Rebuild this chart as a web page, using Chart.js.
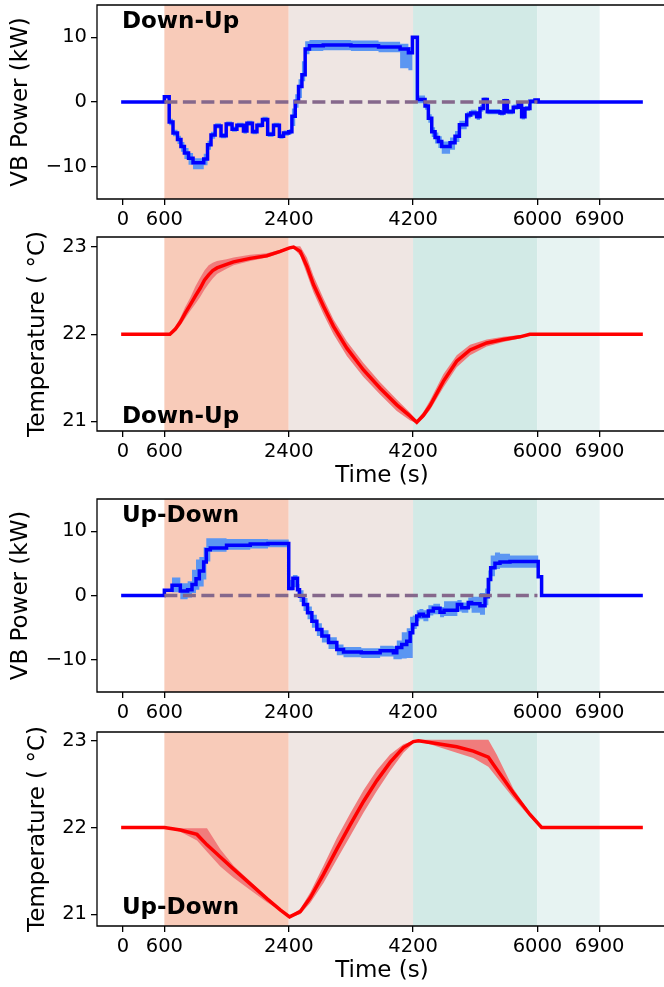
<!DOCTYPE html>
<html>
<head>
<meta charset="utf-8">
<script src="https://cdn.jsdelivr.net/npm/chart.js@4.4.0/dist/chart.umd.min.js"></script>
<style>
  html, body { margin: 0; padding: 0; background: #fff; overflow: hidden; }
  #wrap { position: relative; width: 664px; height: 987px; overflow: hidden; }
  .panel { position: absolute; left: 0; width: 668px; }
</style>
</head>
<body>
<div id="wrap">
<div class="panel" style="top:0px;height:232px"><canvas id="p1" width="668" height="232"></canvas></div>
<div class="panel" style="top:232px;height:256px"><canvas id="p2" width="668" height="256"></canvas></div>
<div class="panel" style="top:494px;height:231px"><canvas id="p3" width="668" height="231"></canvas></div>
<div class="panel" style="top:727px;height:260px"><canvas id="p4" width="668" height="260"></canvas></div>
</div>
<script>
// shaded phases and axis ticks
const spanEdges = [600, 2400, 4200, 6000, 6900];
const spanColors = ['#f8cbb9', '#efe6e3', '#d2eae6', '#e7f3f2'];
const xTicks = [0, 600, 2400, 4200, 6000, 6900];
const powerTicks = [-10, 0, 10];
const tempTicks = [21, 22, 23];
const dashT = [600, 6000];
const dashV = [0, 0];

// Down-Up : VB power (kW)
const duT = [0, 600, 670, 725, 790, 840, 890, 950, 1015, 1170, 1225, 1275, 1335, 1420, 1495, 1580, 1650, 1745, 1795, 1875, 1940, 2020, 2095, 2180, 2265, 2325, 2400, 2446, 2494, 2542, 2591, 2638, 2700, 2900, 3300, 3700, 4012, 4132, 4190, 4262, 4373, 4421, 4470, 4518, 4566, 4615, 4735, 4807, 4870, 4976, 5034, 5120, 5168, 5216, 5274, 5458, 5515, 5564, 5650, 5722, 5771, 5819, 5891, 5964, 6011, 7500];
const duP = [0, 0.8, -3.1, -4.8, -5.8, -6.9, -7.9, -8.7, -9.4, -8.8, -6.6, -5.1, -3.7, -5.2, -3.4, -4.2, -3.6, -4.5, -3.3, -4.6, -3.6, -2.7, -5.0, -3.6, -5.3, -4.8, -4.6, -2.2, 0.1, 2.4, 4.2, 8.2, 8.7, 8.8, 8.7, 8.5, 8.2, 7.6, 10.0, 0.4, -0.6, -2.5, -4.6, -5.5, -6.1, -6.9, -6.3, -5.3, -3.5, -2.0, -1.7, -2.3, -1.0, 0.4, -1.5, -1.7, 0.2, -1.5, -0.8, -0.4, -2.3, -1.0, 0.1, 0.3, 0, 0];
const duPhi = [0, 1.0, -2.6, -4.3, -5.2, -6.2, -7.1, -7.9, -8.7, -8.0, -6.0, -4.6, -3.3, -4.8, -3.0, -3.8, -3.2, -4.1, -2.9, -4.2, -3.2, -2.3, -4.6, -3.2, -4.9, -4.4, -4.2, -1.0, 1.2, 3.5, 6.3, 9.4, 9.6, 9.6, 9.5, 9.3, 9.0, 8.5, 10.2, 1.0, -0.1, -1.9, -3.9, -4.7, -5.3, -6.1, -5.5, -4.5, -2.9, -1.5, -1.2, -1.8, -0.5, 0.7, -1.1, -1.3, 0.5, -1.1, -0.4, -0.1, -1.9, -0.6, 0.4, 0.5, 0, 0];
const duPlo = [0, 0.6, -3.6, -5.3, -6.5, -7.7, -8.8, -9.7, -10.4, -9.8, -7.4, -5.7, -4.1, -5.6, -3.8, -4.6, -4.0, -4.9, -3.7, -5.0, -4.0, -3.1, -5.4, -4.0, -5.7, -5.2, -5.0, -3.7, -0.9, 0.6, 3.2, 7.4, 7.9, 8.0, 7.9, 7.7, 5.2, 4.9, 9.7, -0.2, -1.2, -3.2, -5.4, -6.4, -7.1, -8.0, -7.4, -6.2, -4.2, -2.5, -2.2, -2.8, -1.5, 0.0, -1.9, -2.1, -0.2, -1.9, -1.2, -0.8, -2.7, -1.4, -0.3, 0.1, 0, 0];

// Down-Up : temperature (°C)
const duTT = [0, 600, 680, 760, 831, 900, 976, 1050, 1120, 1180, 1241, 1300, 1362, 1500, 1602, 1843, 2084, 2277, 2412, 2470, 2566, 2663, 2758, 2903, 3048, 3241, 3482, 3723, 3964, 4157, 4253, 4350, 4445, 4638, 4831, 5024, 5265, 5506, 5747, 5891, 7500];
const duTemp = [22.0, 22.0, 22.0, 22.06, 22.14, 22.24, 22.34, 22.44, 22.53, 22.62, 22.68, 22.73, 22.76, 22.80, 22.83, 22.87, 22.90, 22.95, 22.99, 23.0, 22.95, 22.78, 22.57, 22.32, 22.09, 21.84, 21.59, 21.38, 21.19, 21.06, 20.99, 21.07, 21.18, 21.46, 21.69, 21.82, 21.90, 21.94, 21.97, 22.0, 22.0];
const duTempHi = [22.0, 22.0, 22.01, 22.09, 22.19, 22.31, 22.42, 22.55, 22.65, 22.73, 22.79, 22.82, 22.84, 22.86, 22.88, 22.91, 22.93, 22.97, 23.0, 23.01, 23.01, 22.88, 22.67, 22.41, 22.17, 21.92, 21.67, 21.45, 21.25, 21.10, 21.01, 21.11, 21.24, 21.54, 21.76, 21.88, 21.94, 21.97, 21.99, 22.0, 22.0];
const duTempLo = [22.0, 22.0, 22.0, 22.04, 22.10, 22.18, 22.27, 22.35, 22.43, 22.51, 22.58, 22.64, 22.69, 22.75, 22.79, 22.84, 22.88, 22.93, 22.98, 22.99, 22.90, 22.69, 22.48, 22.23, 22.00, 21.75, 21.51, 21.31, 21.12, 21.01, 20.98, 21.04, 21.13, 21.39, 21.62, 21.76, 21.86, 21.91, 21.95, 22.0, 22.0];

// Up-Down : VB power (kW)
const udT = [0, 600, 711, 831, 937, 1000, 1058, 1106, 1169, 1207, 1265, 1500, 1843, 2100, 2400, 2460, 2527, 2556, 2614, 2672, 2735, 2807, 2880, 2976, 3096, 3193, 3450, 3723, 3915, 3964, 4036, 4108, 4157, 4195, 4253, 4292, 4349, 4421, 4493, 4590, 4648, 4841, 4903, 4999, 5047, 5168, 5241, 5289, 5323, 5385, 5458, 5602, 6011, 6060, 7500];
const udP = [0, 0.8, 1.6, 0.7, 0.9, 1.7, 2.6, 3.8, 5.2, 7.1, 7.4, 7.8, 8.0, 8.1, 1.1, 2.7, 0.9, -0.1, -1.4, -2.7, -4.0, -5.3, -6.3, -7.3, -8.4, -8.8, -8.9, -8.6, -8.9, -8.1, -7.6, -7.1, -5.8, -4.5, -3.2, -2.9, -3.2, -2.4, -2.0, -2.6, -2.3, -1.4, -1.9, -1.1, -1.3, -1.6, -0.2, 2.5, 4.3, 5.0, 5.2, 5.3, 2.9, 0, 0];
const udPhi = [0, 0.9, 2.8, 1.9, 2.2, 4.0, 5.6, 6.0, 7.5, 8.9, 8.9, 8.8, 8.8, 8.7, 2.4, 3.2, 1.8, 0.8, -0.4, -1.7, -3.0, -4.3, -5.4, -6.5, -7.6, -8.0, -8.2, -7.8, -7.9, -7.0, -5.7, -5.1, -3.3, -3.1, -2.3, -2.1, -2.3, -1.5, -1.3, -1.8, -0.9, -0.7, -1.1, -0.3, -0.2, 0.4, 1.1, 3.9, 6.2, 6.7, 6.5, 6.2, 2.9, 0, 0];
const udPlo = [0, 0.6, 0.5, -0.6, -0.3, 0.4, 0.9, 1.4, 2.5, 5.3, 6.8, 7.1, 7.3, 7.5, 0.8, 1.3, 0.0, -1.0, -2.4, -3.7, -5.0, -6.3, -7.3, -8.3, -9.3, -9.6, -9.7, -9.5, -9.9, -9.9, -9.8, -9.7, -9.7, -5.2, -4.0, -3.7, -4.0, -3.1, -2.9, -3.4, -3.2, -2.5, -2.7, -2.0, -2.7, -3.0, -1.5, 0.7, 3.0, 4.1, 4.3, 4.3, 2.9, 0, 0];

// Up-Down : temperature (°C)
const udTT = [0, 600, 831, 1072, 1217, 1410, 1602, 1843, 2084, 2277, 2412, 2566, 2711, 2903, 3096, 3289, 3482, 3675, 3867, 4060, 4204, 4277, 4445, 4831, 5072, 5289, 5410, 5650, 5891, 6060, 7500];
const udTemp = [22.0, 22.0, 21.97, 21.92, 21.80, 21.66, 21.52, 21.35, 21.18, 21.05, 20.97, 21.03, 21.19, 21.46, 21.75, 22.03, 22.30, 22.54, 22.75, 22.92, 22.99, 23.0, 22.98, 22.93, 22.88, 22.81, 22.67, 22.40, 22.15, 22.0, 22.0];
const udTempHi = [22.0, 22.0, 21.99, 21.99, 21.99, 21.75, 21.56, 21.38, 21.20, 21.06, 20.98, 21.06, 21.25, 21.56, 21.88, 22.16, 22.43, 22.66, 22.84, 22.96, 23.0, 23.01, 23.01, 23.01, 23.01, 23.01, 22.84, 22.45, 22.17, 22.0, 22.0];
const udTempLo = [22.0, 22.0, 21.95, 21.85, 21.72, 21.55, 21.42, 21.28, 21.14, 21.04, 20.96, 21.0, 21.13, 21.36, 21.63, 21.90, 22.17, 22.42, 22.65, 22.86, 22.97, 22.99, 22.96, 22.86, 22.80, 22.70, 22.58, 22.34, 22.12, 22.0, 22.0];

const FONT = "'DejaVu Sans', 'Liberation Sans', sans-serif";
const xy = (t, v) => t.map((x, i) => ({x: x, y: v[i]}));

const phasePlugin = {
  id: 'phases',
  beforeDatasetsDraw(chart) {
    const {ctx, chartArea, scales: {x}} = chart;
    ctx.save();
    for (let i = 0; i < spanColors.length; i++) {
      const a = x.getPixelForValue(spanEdges[i]);
      const b = x.getPixelForValue(spanEdges[i + 1]);
      ctx.fillStyle = spanColors[i];
      ctx.fillRect(a, chartArea.top, b - a, chartArea.bottom - chartArea.top);
    }
    ctx.restore();
  },
  afterDatasetsDraw(chart, args, opts) {
    const {ctx, chartArea, scales: {x, y}} = chart;
    ctx.save();
    if (opts.text) {
      ctx.font = "bold 23px " + FONT;
      ctx.fillStyle = '#000';
      ctx.textAlign = 'left';
      ctx.textBaseline = 'alphabetic';
      ctx.fillText(opts.text, x.getPixelForValue(opts.at[0]) - 1, y.getPixelForValue(opts.at[1]));
    }
    // frame: the right spine falls just outside the picture
    const right = chart.width + 2;
    ctx.strokeStyle = '#000';
    ctx.lineWidth = 1.3;
    ctx.beginPath();
    ctx.moveTo(right, chartArea.top);
    ctx.lineTo(chartArea.left, chartArea.top);
    ctx.lineTo(chartArea.left, chartArea.bottom);
    ctx.lineTo(right, chartArea.bottom);
    ctx.stroke();
    ctx.restore();
  }
};

function makeChart(id, cfg) {
  const isPower = cfg.kind === 'power';
  const datasets = [];
  if (isPower) {
    datasets.push({data: xy(dashT, dashV), borderColor: '#85688c', borderWidth: 3.5, borderDash: [13, 5.5], pointRadius: 0});
  }
  datasets.push({data: xy(cfg.t, cfg.mid), borderColor: isPower ? '#0000ff' : '#ff0000', borderWidth: 3.5,
    stepped: isPower ? 'before' : false, pointRadius: 0, borderJoinStyle: 'miter', borderCapStyle: 'square'});
  datasets.push({data: xy(cfg.t, cfg.lo), borderColor: 'rgba(0,0,0,0)', borderWidth: 0,
    stepped: isPower ? 'before' : false, pointRadius: 0});
  datasets.push({data: xy(cfg.t, cfg.hi), borderColor: 'rgba(0,0,0,0)', borderWidth: 0,
    stepped: isPower ? 'before' : false, pointRadius: 0, fill: '-1',
    backgroundColor: isPower ? '#5b96f2' : '#f07c7c'});

  return new Chart(document.getElementById(id), {
    type: 'line',
    data: {datasets: datasets},
    plugins: [phasePlugin],
    options: {
      responsive: false,
      animation: false,
      events: [],
      layout: {autoPadding: false, padding: {top: 5, left: 0, right: 1, bottom: 0}},
      plugins: {
        legend: {display: false},
        tooltip: {enabled: false},
        phases: {text: cfg.tag, at: cfg.tagAt}
      },
      scales: {
        x: {
          type: 'linear', min: -375, max: 7875,
          afterBuildTicks: s => { s.ticks = xTicks.map(v => ({value: v})); },
          afterFit: s => { s.height = cfg.xh; s.paddingLeft = 0; s.paddingRight = 0; },
          grid: {drawOnChartArea: false, tickLength: 6, color: '#000', lineWidth: 1.3},
          border: {display: false},
          ticks: {color: '#000', font: {family: FONT, size: 19.5}, padding: 3, maxRotation: 0, autoSkip: false,
            callback: v => String(v)},
          title: {display: cfg.xTitle, text: 'Time (s)', color: '#000', font: {family: FONT, size: 23, lineHeight: 1},
            padding: {top: 0, bottom: cfg.xtPad}}
        },
        y: {
          min: cfg.ymin, max: cfg.ymax,
          afterBuildTicks: s => { s.ticks = (isPower ? powerTicks : tempTicks).map(v => ({value: v})); },
          afterFit: s => { s.width = 97; s.paddingTop = 0; s.paddingBottom = 0; },
          grid: {drawOnChartArea: false, tickLength: 6, color: '#000', lineWidth: 1.3},
          border: {display: false},
          ticks: {color: '#000', font: {family: FONT, size: 19.5}, padding: 4,
            callback: v => String(v).replace('-', '\u2212')},
          title: {display: true, text: isPower ? 'VB Power (kW)' : 'Temperature ( \u00b0C)', color: '#000',
            font: {family: FONT, size: 23}, padding: {top: cfg.ytPad, bottom: 0}}
        }
      }
    }
  });
}

makeChart('p1', {kind: 'power', t: duT, mid: duP, lo: duPlo, hi: duPhi, ymin: -15, ymax: 15,
  xh: 33, xTitle: false, xtPad: 0, ytPad: 7, tag: 'Down-Up', tagAt: [0, 11.4]});
makeChart('p2', {kind: 'temp', t: duTT, mid: duTemp, lo: duTempLo, hi: duTempHi, ymin: 20.89, ymax: 23.115,
  xh: 57, xTitle: true, xtPad: 0, ytPad: 24, tag: 'Down-Up', tagAt: [0, 20.98]});
makeChart('p3', {kind: 'power', t: udT, mid: udP, lo: udPlo, hi: udPhi, ymin: -15, ymax: 15,
  xh: 33, xTitle: false, xtPad: 0, ytPad: 7, tag: 'Up-Down', tagAt: [0, 11.5]});
makeChart('p4', {kind: 'temp', t: udTT, mid: udTemp, lo: udTempLo, hi: udTempHi, ymin: 20.865, ymax: 23.1,
  xh: 61, xTitle: true, xtPad: 4, ytPad: 24, tag: 'Up-Down', tagAt: [0, 21.0]});
</script>
</body>
</html>
